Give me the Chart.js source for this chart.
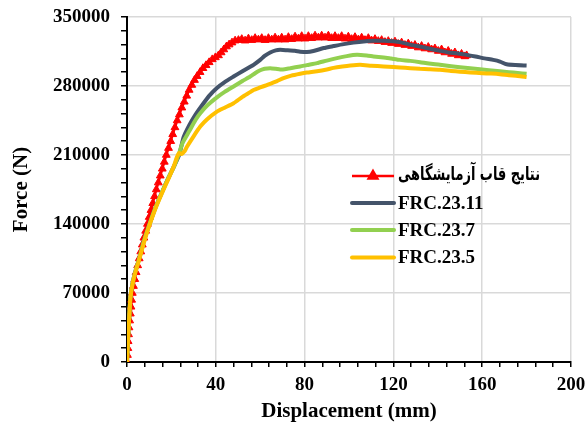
<!DOCTYPE html>
<html>
<head>
<meta charset="utf-8">
<script src="https://cdn.jsdelivr.net/npm/chart.js@4.4.0/dist/chart.umd.min.js"></script>
<style>
  html, body { margin: 0; padding: 0; background: #fff; }
  #wrap { width: 585px; height: 426px; }
</style>
</head>
<body>
<div id="wrap"><canvas id="c" width="585" height="426"></canvas></div>
<script>
// series names (legend order)
const seriesNames = ['نتایج قاب آزمایشگاهی', 'FRC.23.11', 'FRC.23.7', 'FRC.23.5'];

// lab test (red, triangles)
const labDisp = [0, 0.2, 0.4, 0.5, 0.7, 0.9, 1.2, 1.5, 1.8, 2.1,
  2.4, 2.9, 3.5, 4.1, 4.8, 5.5, 6.2, 6.9, 7.6, 8.4,
  9.2, 10.0, 10.8, 11.6, 12.4, 13.2, 14.1, 15.0, 15.9, 16.8,
  17.7, 18.7, 19.7, 20.6, 21.6, 22.6, 23.6, 24.7, 25.8, 26.9,
  28.0, 29.2, 30.4, 31.6, 32.9, 34.2, 35.6, 37.0, 38.4, 39.8,
  41.2, 42.4, 43.6, 44.8, 46.0, 47.3, 48.7, 50.2, 51.7,
  53.2, 54.7, 56.2, 57.7, 59.2, 60.7, 62.2, 63.7, 65.2, 66.7,
  68.2, 69.7, 71.2, 72.7, 74.2, 75.7, 77.2, 78.7, 80.2, 81.7,
  83.2, 84.7, 86.2, 87.7, 89.2, 90.7, 92.2, 93.7, 95.2, 96.7,
  98.2, 99.7, 101.2, 102.7, 104.2, 105.7, 107.2, 108.7, 110.2, 111.7,
  113.2, 114.7, 116.2, 117.7, 119.2, 120.7, 122.2, 123.7, 125.2, 126.7,
  128.2, 129.7, 131.2, 132.7, 134.2, 135.7, 137.2, 138.7, 140.2, 141.7,
  143.2, 144.7, 146.2, 147.7, 149.2, 150.7, 152.2, 153.0];
const labForce = [0, 7000, 14000, 21000, 28000, 35000, 42000, 49000, 56000, 63000,
  70000, 77000, 84000, 91000, 98000, 105000, 112000, 119000, 126000, 133000,
  140000, 147000, 154000, 161000, 168000, 175000, 182000, 189000, 196000, 203000,
  210000, 217000, 224000, 231000, 238000, 245000, 251000, 258000, 264000, 270000,
  276000, 281000, 286000, 290000, 294000, 298000, 301000, 304000, 307000, 309000,
  311000, 314000, 317000, 320000, 322000, 324000, 326000, 326500, 327500,
  326000, 328000, 326500, 328500, 327000, 328500, 326500, 328500, 327000, 329000,
  327000, 329000, 327000, 329500, 327500, 330000, 328000, 330500, 328000, 330500,
  328500, 331000, 329000, 331000, 329000, 331000, 328500, 330500, 328500, 330500,
  328000, 330000, 327500, 329500, 327000, 329000, 326500, 328500, 326000, 327500,
  325500, 326500, 324500, 325500, 323500, 325000, 322500, 324000, 321500, 323000,
  320500, 321500, 319000, 320500, 318000, 319500, 317000, 318000, 315500, 317000,
  314000, 315500, 312500, 314000, 311000, 312500, 310000, 311000];

// FRC.23.11
const frc11Disp = [0, 0.5, 1, 1.5, 2.5, 3.8, 5.5, 7.5, 9.7, 12.7, 15.5, 18.7, 21.5, 23.5,
  25.5, 28, 30.8, 34, 37, 40.5, 44, 48, 52, 55.5, 57, 60, 62, 64.5, 67, 69, 72, 75.6,
  78, 81, 84, 88.6, 93, 97.6, 102, 106.6, 111, 115.6, 120, 123, 127.6, 132, 136, 141,
  145, 149, 153, 157, 161, 165, 168, 171, 175, 180];
const frc11Force = [0, 25000, 45000, 65000, 80000, 92000, 105000, 122000, 137000, 156000,
  171000, 187000, 200000, 210000, 228000, 240000, 250700, 261000, 270000, 278000, 284000,
  289600, 295000, 299500, 301500, 306500, 310500, 314000, 316200, 316700, 316300, 315700,
  314800, 314400, 315500, 318500, 320500, 322500, 324000, 325200, 325800, 325900, 325300,
  324500, 322000, 320000, 318000, 315700, 314000, 313000, 311600, 310000, 308000, 306500,
  304800, 302000, 301200, 300800];

// FRC.23.7
const frc7Disp = [0, 0.5, 1, 1.5, 2.5, 3.8, 5.5, 7.5, 9.7, 12.7, 15.5, 18.7, 21.5, 23.5,
  25, 28, 31, 33, 36, 40.5, 44, 48, 52, 55.5, 58, 60, 62, 64.5, 67, 69, 71, 73.6, 78,
  81, 85.6, 90, 94.6, 99, 103.6, 108, 111, 115.6, 119, 123, 127.6, 132, 136, 141, 146,
  150, 154.6, 159, 163, 168, 172, 176, 180];
const frc7Force = [0, 25000, 45000, 65000, 80000, 92000, 105000, 122000, 137000, 156000,
  171000, 187000, 200000, 212000, 222000, 234000, 246000, 252400, 260000, 268500, 274000,
  279500, 285000, 289600, 293500, 296000, 297500, 298100, 297500, 296800, 297000, 298100,
  299800, 301200, 303200, 305800, 308300, 310300, 311600, 310900, 310000, 308900, 307800,
  306500, 305500, 304200, 302800, 301500, 300000, 299000, 298100, 297000, 296000, 295000,
  294000, 293200, 292400];

// FRC.23.5
const frc5Disp = [0, 0.5, 1, 1.5, 2.5, 3.8, 5.5, 7.5, 9.7, 12.7, 15.5, 18.7, 21, 22.5,
  23.5, 24.5, 26, 27, 30, 33, 36, 40.5, 44, 48, 52, 55.5, 57, 60, 63, 67.6, 70.5, 74, 78,
  81, 85.6, 90, 93, 97, 100.6, 105, 110, 115.6, 120, 123, 127.6, 132, 136, 141, 146, 150,
  154.6, 160, 164, 168, 172, 176, 180];
const frc5Force = [0, 25000, 45000, 64000, 79000, 91000, 104000, 120000, 136000, 155000,
  170000, 186000, 198000, 208000, 212000, 211000, 214000, 218400, 229000, 238800, 246000,
  254000, 258000, 262500, 269000, 273800, 276000, 278500, 281000, 285000, 288000, 290500,
  292400, 293600, 295000, 296800, 298400, 299800, 300800, 301500, 300600, 299800, 299200,
  298700, 298100, 297400, 297000, 296400, 295300, 294500, 293700, 293000, 292600, 292000,
  291000, 290200, 289000];

// axis ticks
const xMajor = 40, xMinor = 8;
const yMajor = 70000, yMinor = 14000;

const colors = ['#FF0000', '#44546A', '#92D050', '#FFC000'];
const FONT = '"Liberation Serif", "Times New Roman", serif';

function pts(xs, ys) {
  return xs.map((x, i) => ({x: x, y: ys[i]}));
}

const datasets = [
  {label: seriesNames[0], data: pts(labDisp, labForce), borderColor: colors[0], backgroundColor: colors[0],
   borderWidth: 2.5, pointStyle: 'triangle', pointRadius: 4.5, pointBorderWidth: 1, order: 4},
  {label: seriesNames[1], data: pts(frc11Disp, frc11Force), borderColor: colors[1], borderWidth: 4,
   pointRadius: 0, tension: 0.2, order: 3},
  {label: seriesNames[2], data: pts(frc7Disp, frc7Force), borderColor: colors[2], borderWidth: 4,
   pointRadius: 0, tension: 0.2, order: 2},
  {label: seriesNames[3], data: pts(frc5Disp, frc5Force), borderColor: colors[3], borderWidth: 4,
   pointRadius: 0, tension: 0.2, order: 1}
];

// legend drawn inside the plot area
const insideLegend = {
  id: 'insideLegend',
  afterDraw(chart) {
    const {ctx, chartArea} = chart;
    const x0 = chartArea.left + 225, x1 = chartArea.left + 267, tx = chartArea.left + 271;
    const rows = [159, 186, 213, 240.5];
    ctx.save();
    chart.data.datasets.forEach((ds, i) => {
      const y = chartArea.top + rows[i];
      ctx.strokeStyle = ds.borderColor;
      ctx.lineWidth = ds.borderWidth;
      ctx.lineCap = i === 0 ? 'butt' : 'round';
      ctx.beginPath();
      ctx.moveTo(x0, y);
      ctx.lineTo(x1, y);
      ctx.stroke();
      if (ds.pointStyle) {
        ctx.fillStyle = ds.backgroundColor;
        Chart.helpers.drawPoint(ctx, {pointStyle: ds.pointStyle, radius: 5, borderWidth: 1, rotation: 0},
          (x0 + x1) / 2, y);
      }
      ctx.fillStyle = '#000';
      ctx.textBaseline = 'middle';
      ctx.textAlign = 'left';
      if (i === 0) {
        // Persian label: squeeze into the same width as the original
        ctx.font = 'bold 19px "DejaVu Sans", ' + FONT;
        ctx.fillText(ds.label, tx, y - 1, 142);
      } else {
        ctx.font = 'bold 19px ' + FONT;
        ctx.fillText(ds.label, tx, y + 1);
      }
    });
    ctx.restore();
  }
};

new Chart(document.getElementById('c'), {
  type: 'line',
  data: {datasets: datasets},
  options: {
    responsive: false,
    animation: false,
    devicePixelRatio: 1,
    layout: {padding: {top: 17, right: 14, left: 0, bottom: 0}},
    plugins: {legend: {display: false}, tooltip: {enabled: false}},
    scales: {
      x: {
        type: 'linear', min: 0, max: 200,
        border: {color: '#000', width: 2},
        grid: {
          color: c => (c.tick && c.tick.value % xMajor === 0) ? '#D9D9D9' : 'rgba(0,0,0,0)',
          lineWidth: 1.5, tickColor: '#000', tickLength: 5, tickWidth: 1.5
        },
        ticks: {
          stepSize: xMinor, autoSkip: false, maxRotation: 0, minRotation: 0, padding: 7,
          color: '#000', font: {family: FONT, size: 19, weight: 'bold'},
          callback: v => (v % xMajor === 0 ? String(v) : '')
        },
        title: {display: true, text: 'Displacement (mm)', color: '#000',
          font: {family: FONT, size: 21, weight: 'bold'}, padding: {top: 2, bottom: 2}},
        afterFit: s => { s.height = 64; s.paddingLeft = 0; s.paddingRight = 14; }
      },
      y: {
        type: 'linear', min: 0, max: 350000,
        border: {color: '#000', width: 2},
        grid: {
          color: c => (c.tick && c.tick.value % yMajor === 0) ? '#D9D9D9' : 'rgba(0,0,0,0)',
          lineWidth: 1.5, tickColor: '#000', tickLength: 6, tickWidth: 1.5
        },
        ticks: {
          stepSize: yMinor, autoSkip: false, padding: 11,
          color: '#000', font: {family: FONT, size: 19, weight: 'bold'},
          callback: v => (v % yMajor === 0 ? String(v) : '')
        },
        title: {display: true, text: 'Force (N)', color: '#000',
          font: {family: FONT, size: 21, weight: 'bold'}, padding: {top: 9, bottom: 9}},
        afterFit: s => { s.width = 127; s.paddingTop = 0; s.paddingBottom = 0; }
      }
    }
  },
  plugins: [insideLegend]
});
</script>
</body>
</html>
